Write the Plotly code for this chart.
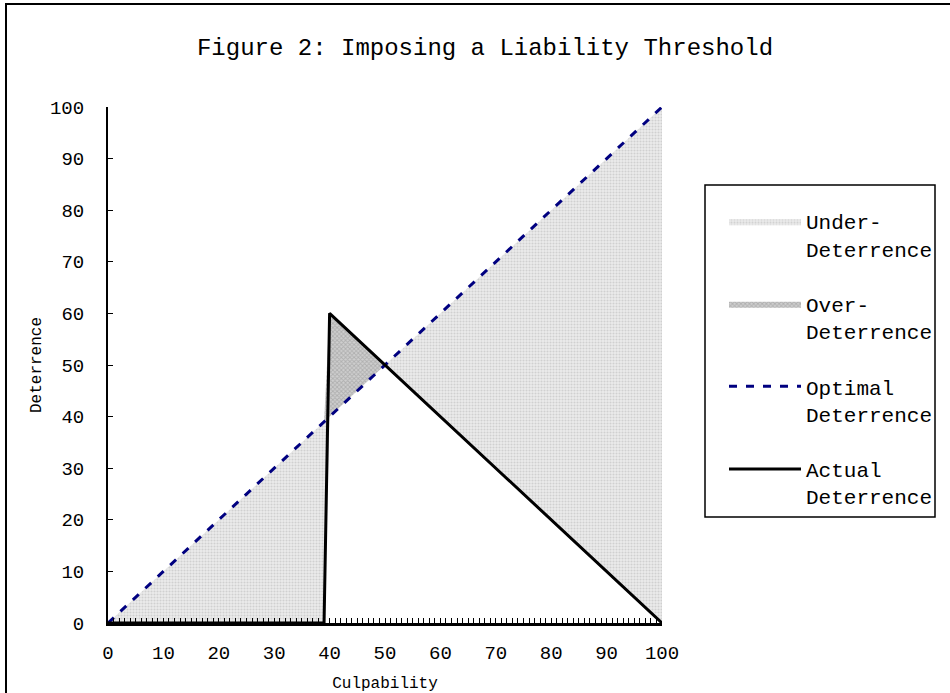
import numpy as np
import plotly.graph_objects as go

# Data
culpability = [0, 39, 40, 50, 100]
optimal = [0, 39, 40, 50, 100]
actual = [0, 0, 60, 50, 0]
x_ticks = [0, 10, 20, 30, 40, 50, 60, 70, 80, 90, 100]
y_ticks = [0, 10, 20, 30, 40, 50, 60, 70, 80, 90, 100]

opt = np.array(optimal, dtype=float)
act = np.array(actual, dtype=float)
under_lower = np.minimum(act, opt)
over_upper = np.maximum(act, opt)

FONT = "Liberation Mono"

fig = go.Figure()
fig.add_trace(go.Scatter(x=culpability, y=under_lower, mode="lines", showlegend=False,
                         line=dict(width=0), hoverinfo="skip", legendgroup="u"))
fig.add_trace(go.Scatter(x=culpability, y=optimal, mode="lines", fill="tonexty",
                         line=dict(width=0), name="Under-<br>Deterrence", legendgroup="u",
                         fillcolor="#e4e4e4",
                         fillpattern=dict(shape=".", size=3, solidity=0.4,
                                          fgcolor="#b4b4b4", bgcolor="#ececec")))
fig.add_trace(go.Scatter(x=culpability, y=optimal, mode="lines", showlegend=False,
                         line=dict(width=0), hoverinfo="skip", legendgroup="o"))
fig.add_trace(go.Scatter(x=culpability, y=over_upper, mode="lines", fill="tonexty",
                         line=dict(width=0), name="Over-<br>Deterrence", legendgroup="o",
                         fillcolor="#b8b8b8",
                         fillpattern=dict(shape="x", size=3, solidity=0.5,
                                          fgcolor="#909090", bgcolor="#cfcfcf")))
fig.add_trace(go.Scatter(x=culpability, y=optimal, mode="lines", name="Optimal<br>Deterrence",
                         legendgroup="p",
                         line=dict(color="#000080", width=3, dash="8px,9px")))
fig.add_trace(go.Scatter(x=culpability, y=actual, mode="lines", name="Actual<br>Deterrence",
                         legendgroup="a",
                         line=dict(color="black", width=3)))

PW, PH = 554, 516
fig.update_layout(
    width=950, height=693,
    margin=dict(l=108, r=288, t=107, b=70),
    paper_bgcolor="white", plot_bgcolor="white",
    font=dict(family=FONT, size=19, color="black"),
    title=dict(text="Figure 2: Imposing a Liability Threshold", x=485 / 950, xref="container",
               xanchor="center", y=1 - 47 / 693, yanchor="middle",
               font=dict(family=FONT, size=24, color="black")),
    legend=dict(x=(724 - 108) / PW, xanchor="left", y=(623 - 201) / PH, yanchor="top",
                borderwidth=0, bgcolor="rgba(0,0,0,0)", valign="top",
                font=dict(family=FONT, size=21), tracegroupgap=25, itemwidth=72,
                traceorder="grouped"),
    showlegend=True,
)
fig.update_xaxes(range=[0, 100], tickvals=x_ticks, showgrid=False, zeroline=False,
                 showline=True, linecolor="black", linewidth=2.5, automargin=False,
                 ticks="inside", ticklen=5, tickcolor="black", tickwidth=1,
                 minor=dict(dtick=1, ticks="inside", ticklen=5, tickcolor="black", tickwidth=1),
                 title=dict(text="Culpability", font=dict(size=16), standoff=15),
                 tickfont=dict(size=19), ticklabelstandoff=10)
fig.update_yaxes(range=[0, 100], tickvals=y_ticks, showgrid=False, zeroline=False,
                 showline=True, linecolor="black", linewidth=2, automargin=False,
                 ticks="inside", ticklen=5, tickcolor="black", tickwidth=1,
                 title=dict(text="Deterrence", font=dict(size=16), standoff=4),
                 tickfont=dict(size=19), ticklabelstandoff=18)

# legend box
fig.add_shape(type="rect", xref="paper", yref="paper",
              x0=(705 - 108) / PW, x1=(935 - 108) / PW,
              y0=(623 - 517) / PH, y1=(623 - 185) / PH,
              line=dict(color="black", width=1.5), fillcolor="rgba(0,0,0,0)", layer="above")
# outer chart border
fig.add_shape(type="rect", xref="paper", yref="paper",
              x0=(6 - 108) / PW, x1=(960 - 108) / PW,
              y0=(623 - 710) / PH, y1=(623 - 4) / PH,
              line=dict(color="black", width=2), fillcolor="rgba(0,0,0,0)", layer="above")

fig.write_html("out.html")
